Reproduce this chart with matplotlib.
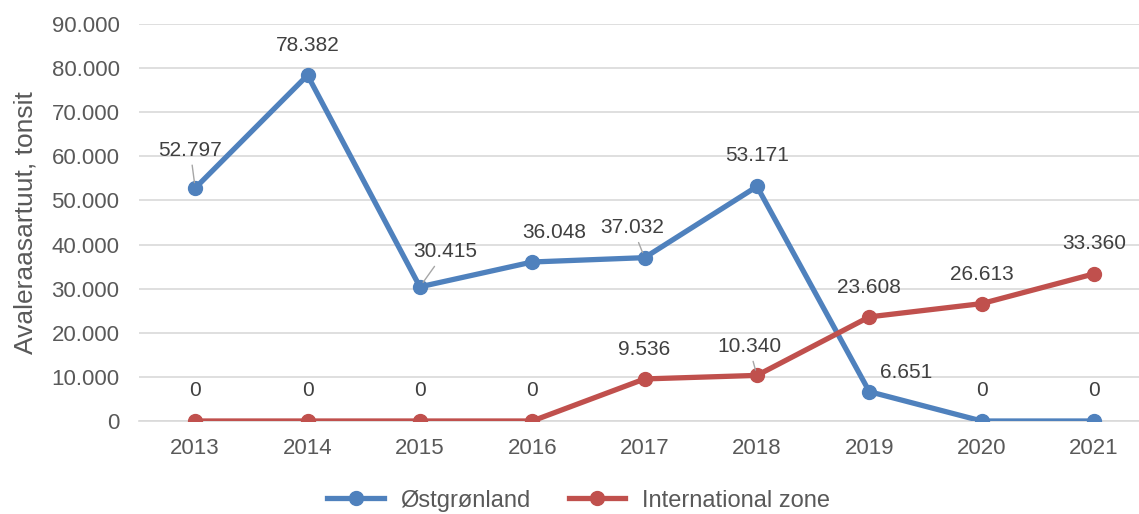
import matplotlib.pyplot as plt

plt.rcParams['font.family'] = ['Liberation Sans', 'DejaVu Sans']

years = ['2013', '2014', '2015', '2016', '2017', '2018', '2019', '2020', '2021']
ostgronland = [52797, 78382, 30415, 36048, 37032, 53171, 6651, 0, 0]
international = [0, 0, 0, 0, 9536, 10340, 23608, 26613, 33360]

# label offsets in pixels (dx, dy) and whether a leader line is drawn
off_blue = [(-5, 38), (0, 30), (25, 35), (22, 29), (-12, 30), (0, 31), (37, 19), (0, 30), (0, 30)]
lead_blue = [True, False, True, False, True, False, False, False, False]
off_red = [(0, 30), (0, 30), (0, 30), (0, 30), (0, 29), (-8, 29), (0, 29), (0, 29), (0, 30)]
lead_red = [False, False, False, False, False, True, False, False, False]

blue = '#4f81bd'
red = '#c0504d'
txt = '#595959'

def fmt(v):
    return f"{v:,}".replace(',', '.')

fig = plt.figure(figsize=(11.39, 5.14), dpi=100)
ax = fig.add_axes([139/1139, 93/514, 1 - 139/1139, (421 - 24)/514])

x = list(range(len(years)))
ax.plot(x, ostgronland, color=blue, lw=3.8, marker='o', ms=10, label='Østgrønland', zorder=3)
ax.plot(x, international, color=red, lw=3.8, marker='o', ms=10, label='International zone', zorder=3)

def label(series, offs, leads, skip_zero_of=None):
    for i, v in enumerate(series):
        if skip_zero_of is not None and v == 0 and skip_zero_of[i] == 0:
            continue
        dx, dy = offs[i]
        ap = None
        if leads[i]:
            ap = dict(arrowstyle='-', color='#a6a6a6', lw=1, shrinkA=2, shrinkB=4)
        ax.annotate(fmt(v), (i, v), xytext=(dx, dy), textcoords='offset pixels',
                    ha='center', va='center', fontsize=15, color='#404040',
                    arrowprops=ap, zorder=4)

label(ostgronland, off_blue, lead_blue, skip_zero_of=international)
label(international, off_red, lead_red)

ax.set_xlim(-0.5, 8.4)
ax.set_ylim(0, 90000)
ax.set_yticks(range(0, 90001, 10000))
ax.set_yticklabels([fmt(v) for v in range(0, 90001, 10000)])
ax.set_xticks(x)
ax.set_xticklabels(years)
ax.tick_params(axis='both', length=0, labelsize=16, colors=txt)
ax.tick_params(axis='x', pad=12)
ax.tick_params(axis='y', pad=14)
ax.grid(axis='y', color='#d9d9d9', lw=1.2)
ax.set_axisbelow(True)
for s in ['top', 'right', 'left']:
    ax.spines[s].set_visible(False)
ax.spines['bottom'].set_color('#d9d9d9')
ax.spines['bottom'].set_linewidth(1.2)
ax.set_ylabel('Avaleraasartuut, tonsit', fontsize=19, color=txt, labelpad=10)

fig.legend(loc='center', bbox_to_anchor=(0.508, 0.026), ncol=2, frameon=False,
           fontsize=17, labelcolor=txt, handlelength=2.4, columnspacing=1.6,
           handletextpad=0.7, borderaxespad=0)

fig.savefig('out.png', dpi=100)
